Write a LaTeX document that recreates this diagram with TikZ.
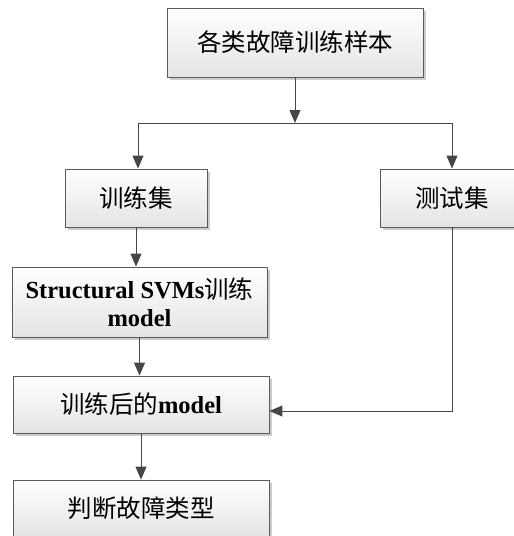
\documentclass[tikz,border=0pt]{standalone}
\usepackage{fontspec}
\setmainfont{Liberation Serif}
\newfontfamily\cjk{Noto Sans CJK SC}
\usetikzlibrary{arrows.meta,shadows,calc}
\definecolor{edgegray}{HTML}{5A5A5A}
\definecolor{linegray}{HTML}{464646}
\definecolor{shadegray}{HTML}{E4E4E4}
\definecolor{shadowgray}{HTML}{CCCCCC}
\tikzset{
  box/.style={draw=edgegray, line width=0.9pt, top color=white, bottom color=shadegray,
    drop shadow={shadow xshift=3pt, shadow yshift=-3pt, fill=shadowgray, opacity=1},
    inner sep=0pt, font=\fontsize{24.5}{28}\selectfont, align=center},
  link/.style={draw=linegray, line width=1pt},
  arr/.style={link, -{Triangle[width=11pt,length=13pt]}},
}
\begin{document}
\begin{tikzpicture}[x=1pt,y=-1pt]
\useasboundingbox (0,0) rectangle (514,536);
\node[box, minimum width=256pt, minimum height=69pt] (top) at (295,42.5) {\cjk 各类故障训练样本};
\node[box, minimum width=142pt, minimum height=58pt] (train) at (136,198) {\cjk 训练集};
\node[box, minimum width=144pt, minimum height=58pt] (test) at (452,198) {\cjk 测试集};
\node[box, minimum width=255pt, minimum height=70pt] (svm) at (139.5,302)
  {\textbf{Structural SVMs}{\cjk 训练}\\\textbf{model}};
\node[box, minimum width=256pt, minimum height=57pt] (model) at (141,404.5)
  {{\cjk 训练后的}\textbf{model}};
\node[box, minimum width=256pt, minimum height=57pt] (judge) at (141,508.5) {\cjk 判断故障类型};
% splitting bus and the return path of the test set
\coordinate (split) at (295,123);
\coordinate (lft) at (138,123);
\coordinate (rgt) at (452,123);
\coordinate (ret) at (452,411);
\draw[arr] (top) -- (split);
\draw[link] (lft) -- (rgt);
\draw[arr] (lft) -- (lft |- train.north);
\draw[arr] (rgt) -- (test.north);
\draw[arr] (test.south) -- (ret) -- (ret -| model.east);
\draw[arr] (train.south) -- (train.south |- svm.north);
\draw[arr] (svm.south) -- (svm.south |- model.north);
\draw[arr] (model.south) -- (model.south |- judge.north);
\end{tikzpicture}
\end{document}
